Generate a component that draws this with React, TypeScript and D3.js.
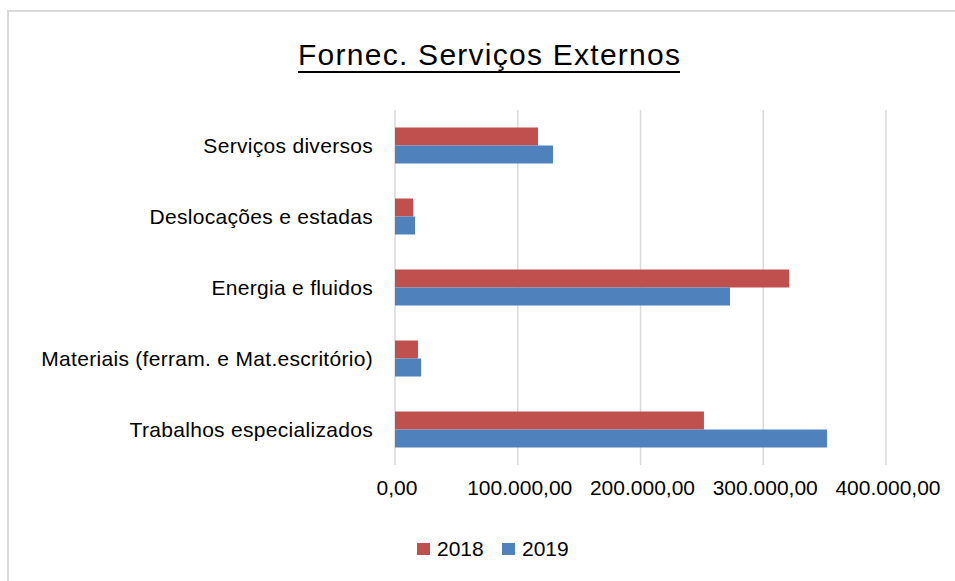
import * as d3 from 'd3';

const categories = [
  'Serviços diversos',
  'Deslocações e estadas',
  'Energia e fluidos',
  'Materiais (ferram. e Mat.escritório)',
  'Trabalhos especializados',
];
const values2018 = [116500, 14700, 321000, 18700, 251700];
const values2019 = [128700, 16300, 272900, 21200, 351900];
const xTicks = [0, 100000, 200000, 300000, 400000];
const seriesNames = ['2018', '2019'];
const colors = ['#C0504D', '#4F81BD'];

const W = 955;
const H = 581;
const FONT = '"Liberation Sans", Arial, sans-serif';

// pt-PT style number: 100.000,00
const fmt = (v: number) => {
  const [int, dec] = v.toFixed(2).split('.');
  return int.replace(/\B(?=(\d{3})+(?!\d))/g, '.') + ',' + dec;
};

export default function App() {
  const x = d3.scaleLinear().domain([0, 400000]).range([395, 886]);
  const y = d3
    .scaleBand<string>()
    .domain(categories)
    .range([110, 465])
    .paddingInner(0.493)
    .paddingOuter(0.2465);
  const bw = y.bandwidth() / 2;
  const series = [values2018, values2019];

  return (
    <svg
      width={W}
      height={H}
      style={{ position: 'absolute', left: 0, top: 0, display: 'block', background: '#fff' }}
      fontFamily={FONT}
    >
      {/* chart frame, runs off the right and bottom edge */}
      <rect x={8} y={11} width={W + 20} height={H + 20} fill="#fff" stroke="#d9d9d9" strokeWidth={2} />

      {/* title */}
      <text x={298} y={65} fontSize={30} textLength={382} lengthAdjust="spacing" fill="#000">
        Fornec. Serviços Externos
      </text>
      <line x1={298} x2={680} y1={72} y2={72} stroke="#000" strokeWidth={2} />

      {/* gridlines */}
      {xTicks.map((t) => (
        <line key={t} x1={x(t)} x2={x(t)} y1={110} y2={465} stroke="#d9d9d9" strokeWidth={1.5} />
      ))}

      {/* bars */}
      {categories.map((c, i) =>
        series.map((s, k) => (
          <rect
            key={c + k}
            x={x(0)}
            y={(y(c) ?? 0) + k * bw}
            width={x(s[i]) - x(0)}
            height={bw}
            fill={colors[k]}
          />
        ))
      )}

      {/* category labels */}
      {categories.map((c) => (
        <text
          key={c}
          x={373}
          y={(y(c) ?? 0) + y.bandwidth() / 2}
          dy="0.35em"
          textAnchor="end"
          fontSize={21}
          letterSpacing={0.3}
          fill="#000"
        >
          {c}
        </text>
      ))}

      {/* x tick labels */}
      {xTicks.map((t) => (
        <text key={t} x={x(t) + 2} y={495} textAnchor="middle" fontSize={21} fill="#000">
          {fmt(t)}
        </text>
      ))}

      {/* legend */}
      {seriesNames.map((n, k) => (
        <g key={n} transform={`translate(${417 + k * 85},0)`}>
          <rect x={0} y={543} width={13} height={12} fill={colors[k]} />
          <text x={20} y={556} fontSize={21} fill="#000">
            {n}
          </text>
        </g>
      ))}
    </svg>
  );
}
